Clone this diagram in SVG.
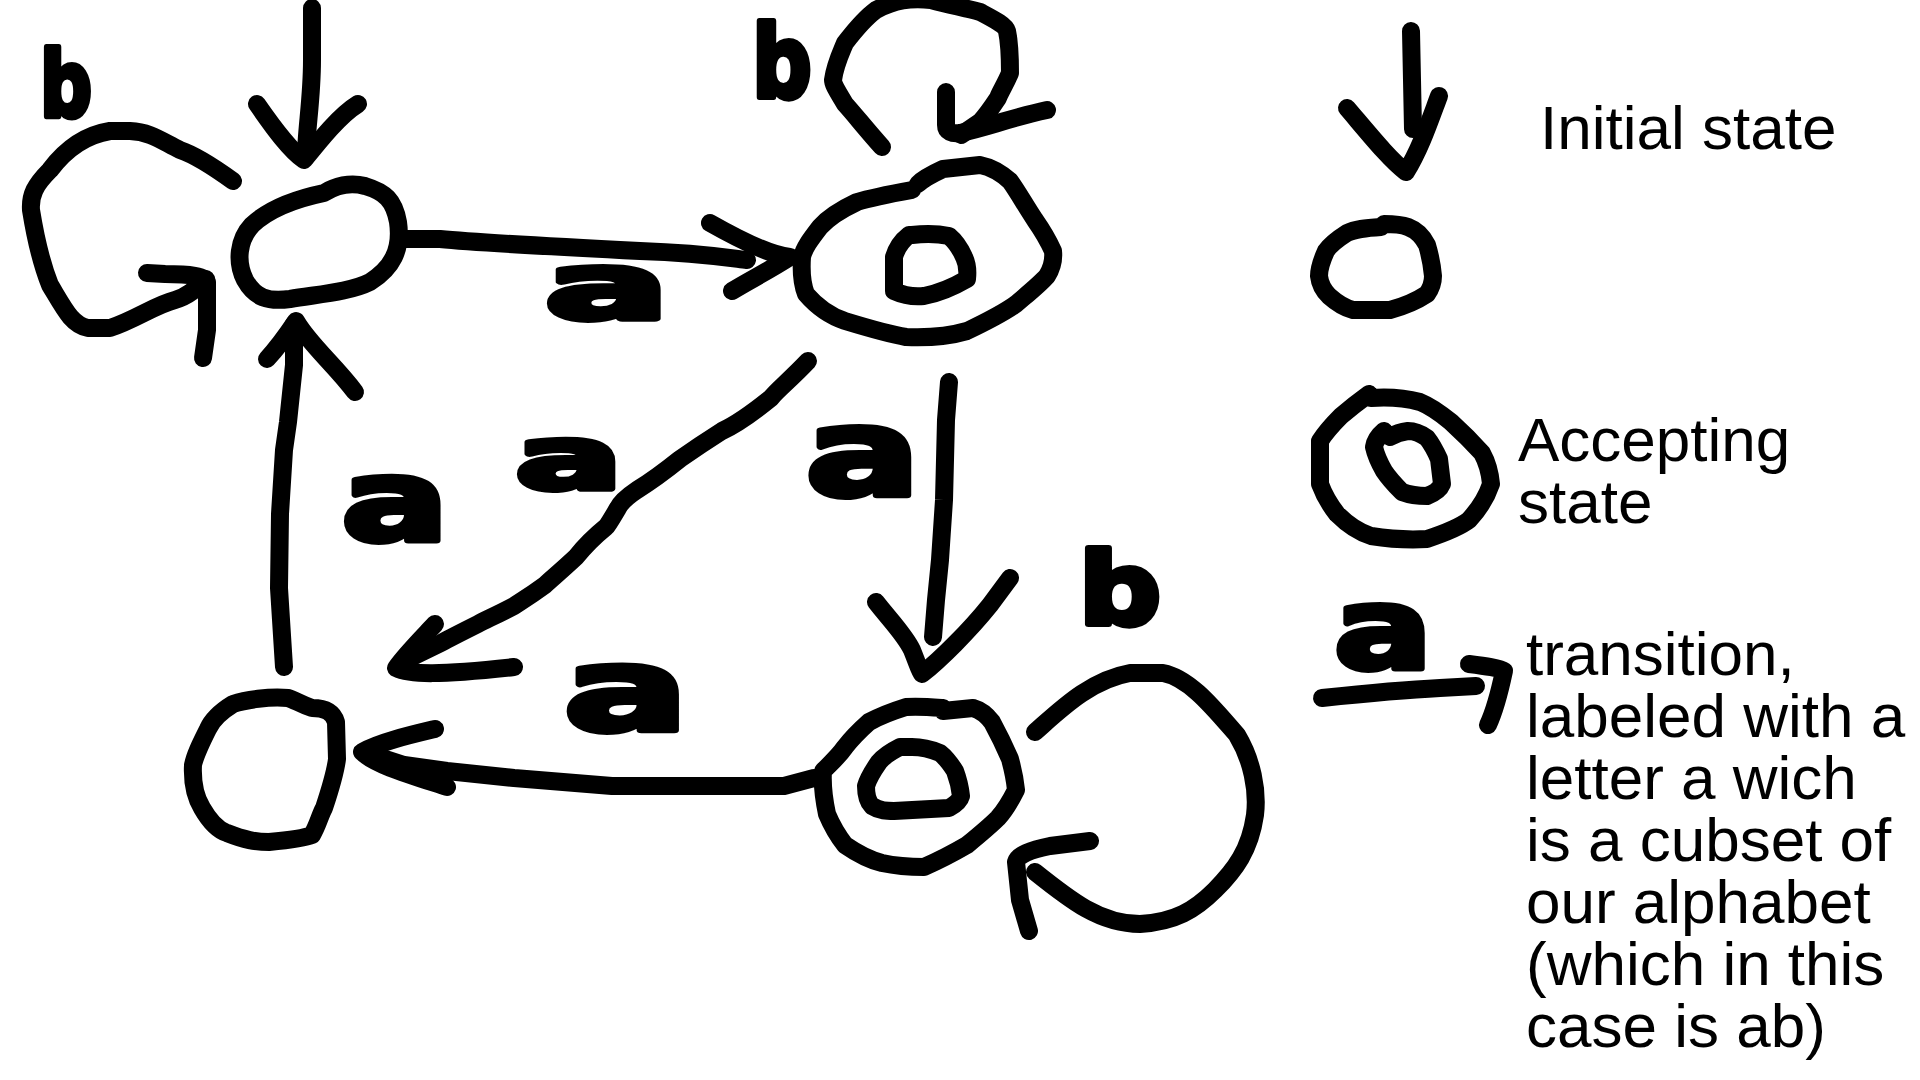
<svg xmlns="http://www.w3.org/2000/svg" width="1920" height="1080" viewBox="0 0 1920 1080">
<style>
.s{fill:none;stroke:#000;stroke-width:18;stroke-linecap:round;stroke-linejoin:round}
.lbl{font-family:"DejaVu Sans",sans-serif;font-weight:bold;fill:#000;stroke:#000;stroke-width:6;stroke-linejoin:round;text-anchor:middle}
.txt{font-family:"Liberation Sans",Arial,sans-serif;font-size:62px;fill:#000}
</style>
<rect width="1920" height="1080" fill="#fff"/>
<g id="connectors">
  <g id="init-q0">
    <path class="s" d="M312,8 L312,60 C312,100 306,130 306,157"/>
    <path class="s" d="M257,104 C275,130 290,150 304,160 C320,140 340,115 358,104"/>
  </g>
  <g id="loop-q0">
    <path class="s" d="M233,181 C215,168 195,155 180,150 C160,140 150,132 130,131 L110,131 C85,135 65,150 50,170 C35,185 30,195 31,210 C35,235 40,260 50,285 C65,310 72,325 88,328 L110,328 C135,320 155,305 175,300 C190,296 200,285 206,279"/>
    <path class="s" d="M147,273 L165,274 C190,274 205,276 207,282 L207,330 L203,358"/>
  </g>
  <g id="q0-q1">
    <path class="s" d="M402,239 L440,239 C480,243 560,247 640,251 C700,253 730,258 747,260"/>
    <path class="s" d="M710,223 C740,240 770,255 790,257 C770,270 750,280 732,291"/>
  </g>
  <g id="loop-q1">
    <path class="s" d="M882,147 C865,128 855,115 845,104 C838,92 833,85 833,80 C835,65 840,55 845,43 C855,30 865,18 876,10 C895,0 910,-2 931,0 C950,5 965,8 980,12 C995,20 1005,25 1007,31 C1010,45 1010,60 1010,73 C1005,85 1000,92 998,98 C990,110 985,117 980,122 L961,135"/>
    <path class="s" d="M946,92 L946,125 C946,132 952,134 960,133 C985,128 1010,118 1047,110"/>
  </g>
  <g id="q1-q2">
    <path class="s" d="M808,361 C790,380 775,392 771,398 C750,415 735,425 722,431 C700,445 690,452 680,459 C660,475 650,482 637,490 C625,498 620,504 618,508 C612,518 608,525 606,527 C590,540 580,552 576,557 C560,572 550,580 545,585 C530,596 520,602 514,606 C495,616 485,620 478,624 C460,633 450,638 441,643 L404,661"/>
    <path class="s" d="M435,624 C420,640 405,655 396,668 C410,675 440,675 514,667"/>
  </g>
  <g id="q1-q3">
    <path class="s" d="M949,382 L946,420 L944,500 L940,560 L936,600 L933,637"/>
    <path class="s" d="M876,602 C890,620 905,635 912,650 C918,665 920,672 922,674 C940,660 970,630 990,605 L1010,578"/>
  </g>
  <g id="loop-q3">
    <path class="s" d="M1035,732 C1060,710 1090,680 1130,673 L1163,673 C1190,678 1215,710 1237,735 C1252,760 1258,790 1255,815 C1250,850 1235,870 1215,890 C1195,910 1175,922 1140,924 C1100,924 1070,900 1035,872"/>
    <path class="s" d="M1090,841 L1050,846 C1030,850 1018,855 1016,862 L1020,900 L1029,931"/>
  </g>
  <g id="q3-q2">
    <path class="s" d="M814,778 L784,786 L686,786 L612,786 L514,778 L447,771 L404,765 L367,753"/>
    <path class="s" d="M435,729 C410,735 380,742 362,752 C375,765 410,775 447,787"/>
  </g>
  <g id="q2-q0">
    <path class="s" d="M284,667 L279,588 L280,514 L284,450 L288,422 L294,365 L294,324"/>
    <path class="s" d="M267,359 C280,345 290,330 296,321 C310,345 335,365 355,392"/>
  </g>
  <g id="labels">
    <text class="lbl" font-size="90" transform="translate(66,116) scale(0.8,1)">b</text>
    <text class="lbl" font-size="100" transform="translate(782,97) scale(0.83,1)">b</text>
    <text class="lbl" font-size="92" transform="translate(607,319) scale(2,1)">a</text>
    <text class="lbl" font-size="88" transform="translate(569,489) scale(1.8,1)">a</text>
    <text class="lbl" font-size="122" transform="translate(863,495) scale(1.4,1)">a</text>
    <text class="lbl" font-size="116" transform="translate(626,730) scale(1.6,1)">a</text>
    <text class="lbl" font-size="114" transform="translate(395,540) scale(1.4,1)">a</text>
    <text class="lbl" font-size="100" transform="translate(1120,624) scale(1.15,1)">b</text>
  </g>
</g>
<g id="q0">
  <path class="s" d="M324,193 C300,198 270,208 252,225 C238,240 236,262 245,280 C255,298 268,302 290,299 C320,294 350,292 370,282 C392,268 402,250 398,222 C394,200 385,192 365,186 C350,182 335,186 324,193 Z"/>
</g>
<g id="q1">
  <path class="s" d="M912,190 C890,194 870,198 857,202 C840,210 828,218 820,227 C810,240 804,248 802,257 C801,272 802,284 806,294 C818,308 830,316 845,321 C868,328 888,334 906,337 C930,338 950,336 967,331 C990,320 1005,312 1016,304 C1030,292 1040,284 1047,276 C1052,268 1054,260 1053,251 C1048,240 1042,230 1035,220 C1025,205 1018,192 1010,181 C1000,172 990,167 980,165 L943,169 C930,175 922,180 918,184"/>
  <path class="s" d="M909,235 C900,242 896,250 894,257 L894,291 C905,296 915,297 924,296 C940,293 955,286 967,279 C968,270 967,263 964,257 C960,248 955,241 949,236 C935,233 920,234 912,235"/>
</g>
<g id="q2">
  <path class="s" d="M288,698 C270,696 245,700 233,704 C220,712 212,720 208,729 C200,745 195,755 193,765 C192,785 196,798 202,808 C210,822 218,830 227,833 C245,840 255,842 269,842 C290,840 305,838 312,835 C318,825 320,815 324,808 C330,790 335,775 337,759 L336,722 C333,712 325,708 312,708 C300,704 295,700 288,698 Z"/>
</g>
<g id="q3">
  <path class="s" d="M943,708 C930,707 918,706 906,707 C890,712 880,716 869,722 C860,730 852,738 845,747 C838,757 830,764 823,771 C822,786 824,800 827,814 C832,826 838,836 845,845 C858,854 870,860 882,863 C896,866 910,867 924,867 C940,860 955,852 967,845 C978,836 990,826 998,818 C1007,808 1012,798 1016,790 C1015,780 1013,770 1010,759 C1004,745 998,733 992,722 C986,714 980,710 973,708 L943,711"/>
  <path class="s" d="M900,747 C890,752 884,756 879,762 C872,772 868,779 866,786 C866,796 868,802 872,806 C880,811 887,811 894,811 L949,808 C956,804 960,800 961,796 C960,787 958,779 955,771 C950,763 945,757 940,753 C928,748 920,747 912,747 Z"/>
</g>
<g id="legend-initial">
  <path class="s" d="M1411,31 L1412,80 L1413,129"/>
  <path class="s" d="M1347,108 C1370,135 1390,160 1406,172 C1420,150 1430,120 1439,96"/>
  <text class="txt" x="1540" y="149">Initial state</text>
</g>
<g id="legend-state">
  <path class="s" d="M1381,227 C1365,228 1355,229 1347,233 C1336,240 1330,245 1326,251 C1321,262 1319,270 1319,276 C1320,285 1324,291 1329,296 C1338,304 1345,308 1353,310 L1390,310 C1405,306 1418,300 1427,294 C1432,287 1433,282 1433,276 C1432,265 1430,255 1427,245 C1422,235 1416,230 1408,227 C1400,224 1390,224 1384,224"/>
</g>
<g id="legend-accepting">
  <path class="s" d="M1369,394 C1358,402 1348,410 1341,416 C1332,425 1325,433 1320,441 L1320,484 C1324,495 1330,505 1337,514 C1347,524 1358,532 1371,536 C1390,539 1410,540 1427,539 C1445,533 1460,527 1469,520 C1480,508 1487,496 1491,484 C1490,473 1487,462 1482,453 C1472,442 1462,432 1451,422 C1440,413 1430,406 1420,402 C1405,398 1385,397 1371,398"/>
  <path class="s" d="M1384,431 C1378,436 1375,441 1374,447 C1376,456 1380,464 1384,471 C1390,480 1396,486 1402,492 C1410,495 1418,496 1427,496 C1435,493 1440,489 1442,484 L1439,459 C1435,450 1431,443 1427,438 C1420,433 1414,431 1408,431 C1400,432 1395,434 1390,437"/>
  <text class="txt" x="1518" y="461">Accepting</text>
  <text class="txt" x="1518" y="523">state</text>
</g>
<g id="legend-transition">
  <text class="lbl" font-size="112" transform="translate(1383,668) scale(1.3,1)">a</text>
  <path class="s" d="M1322,698 C1360,694 1400,690 1440,688 L1476,686"/>
  <path class="s" d="M1469,664 C1485,666 1500,668 1504,671 C1500,690 1495,710 1488,725"/>
  <text class="txt" x="1526">
    <tspan x="1526" y="675">transition,</tspan>
    <tspan x="1526" y="737">labeled with a</tspan>
    <tspan x="1526" y="799">letter a wich</tspan>
    <tspan x="1526" y="861">is a cubset of</tspan>
    <tspan x="1526" y="923">our alphabet</tspan>
    <tspan x="1526" y="985">(which in this</tspan>
    <tspan x="1526" y="1047">case is ab)</tspan>
  </text>
</g>
</svg>
